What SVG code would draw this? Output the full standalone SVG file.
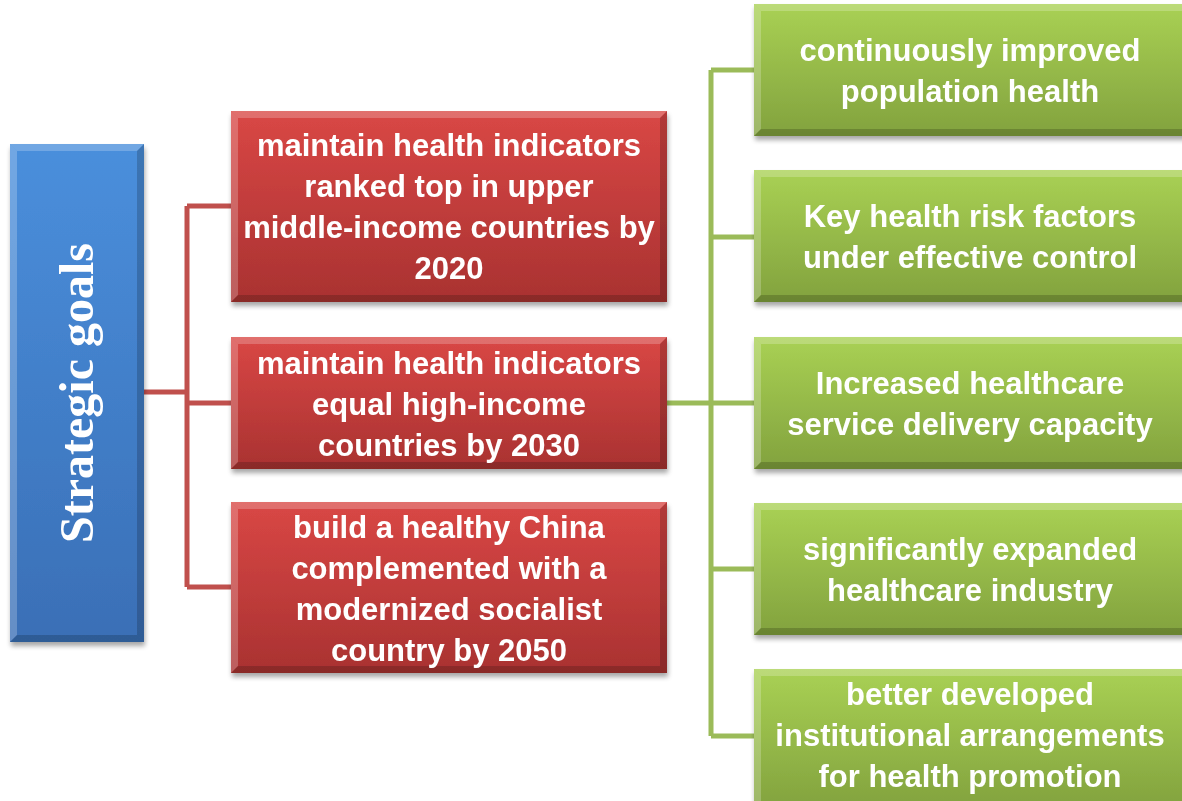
<svg xmlns="http://www.w3.org/2000/svg" width="1182" height="801" viewBox="0 0 1182 801">
<defs>
<linearGradient id="gBlue" x1="0" y1="0" x2="0" y2="1"><stop offset="0" stop-color="#4a8fdc"/><stop offset="1" stop-color="#3a6fb6"/></linearGradient>
<linearGradient id="gRed" x1="0" y1="0" x2="0" y2="1"><stop offset="0" stop-color="#d94745"/><stop offset="1" stop-color="#a93231"/></linearGradient>
<linearGradient id="gGreen" x1="0" y1="0" x2="0" y2="1"><stop offset="0" stop-color="#a9d154"/><stop offset="1" stop-color="#82a23e"/></linearGradient>
<filter id="sh" x="-10%" y="-10%" width="120%" height="125%"><feGaussianBlur in="SourceAlpha" stdDeviation="2.5"/><feOffset dx="1" dy="4" result="b"/><feComponentTransfer><feFuncA type="linear" slope="0.35"/></feComponentTransfer><feMerge><feMergeNode/><feMergeNode in="SourceGraphic"/></feMerge></filter>
</defs>
<style>
.t{font-family:"Liberation Sans",Arial,sans-serif;font-weight:bold;font-size:31px;fill:#ffffff;text-anchor:middle}
.s{font-family:"Liberation Serif","Times New Roman",serif;font-weight:bold;font-size:48px;fill:#ffffff;text-anchor:middle}
.hi{fill:#ffffff;opacity:0.22}
.lo{fill:#000000;opacity:0.18}
.cr{fill:none;stroke:#c0504d;stroke-width:5}
.cg{fill:none;stroke:#9bbb59;stroke-width:5}
</style>
<rect width="1182" height="801" fill="#ffffff"/>
<g id="connectors">
<path class="cr" d="M144 392 H187 M187 206 V587 M187 206 H231 M187 403 H231 M187 587 H231"/>
<path class="cg" d="M667 403 H711 M711 70 V736 M711 70 H754 M711 237 H754 M711 403 H754 M711 569 H754 M711 736 H754"/>
</g>
<g id="root" filter="url(#sh)">
<rect x="10" y="144" width="134" height="498" fill="url(#gBlue)"/>
<polygon class="hi" points="10,144 144,144 137,151 17,151"/><polygon class="hi" points="10,144 17,151 17,635 10,642"/>
<polygon class="lo" points="144,144 144,642 137,635 137,151"/><polygon class="lo" points="10,642 144,642 137,635 17,635"/>
<text class="s" transform="translate(93 393) rotate(-90)">Strategic goals</text>
</g>
<g id="r1" filter="url(#sh)">
<rect x="231" y="111" width="436" height="191" fill="url(#gRed)"/>
<polygon class="hi" points="231,111 667,111 660,118 238,118"/><polygon class="hi" points="231,111 238,118 238,295 231,302"/>
<polygon class="lo" points="667,111 667,302 660,295 660,118"/><polygon class="lo" points="231,302 667,302 660,295 238,295"/>
<text class="t" x="449" y="156">maintain health indicators</text>
<text class="t" x="449" y="197">ranked top in upper</text>
<text class="t" x="449" y="238">middle-income countries by</text>
<text class="t" x="449" y="279">2020</text>
</g>
<g id="r2" filter="url(#sh)">
<rect x="231" y="337" width="436" height="132" fill="url(#gRed)"/>
<polygon class="hi" points="231,337 667,337 660,344 238,344"/><polygon class="hi" points="231,337 238,344 238,462 231,469"/>
<polygon class="lo" points="667,337 667,469 660,462 660,344"/><polygon class="lo" points="231,469 667,469 660,462 238,462"/>
<text class="t" x="449" y="374">maintain health indicators</text>
<text class="t" x="449" y="415">equal high-income</text>
<text class="t" x="449" y="456">countries by 2030</text>
</g>
<g id="r3" filter="url(#sh)">
<rect x="231" y="502" width="436" height="171" fill="url(#gRed)"/>
<polygon class="hi" points="231,502 667,502 660,509 238,509"/><polygon class="hi" points="231,502 238,509 238,666 231,673"/>
<polygon class="lo" points="667,502 667,673 660,666 660,509"/><polygon class="lo" points="231,673 667,673 660,666 238,666"/>
<text class="t" x="449" y="538">build a healthy China</text>
<text class="t" x="449" y="579">complemented with a</text>
<text class="t" x="449" y="620">modernized socialist</text>
<text class="t" x="449" y="661">country by 2050</text>
</g>
<g id="g1" filter="url(#sh)">
<rect x="754" y="4" width="440" height="132" fill="url(#gGreen)"/>
<polygon class="hi" points="754,4 1194,4 1187,11 761,11"/><polygon class="hi" points="754,4 761,11 761,129 754,136"/>
<polygon class="lo" points="754,136 1194,136 1187,129 761,129"/>
<text class="t" x="970" y="61">continuously improved</text>
<text class="t" x="970" y="102">population health</text>
</g>
<g id="g2" filter="url(#sh)">
<rect x="754" y="170" width="440" height="132" fill="url(#gGreen)"/>
<polygon class="hi" points="754,170 1194,170 1187,177 761,177"/><polygon class="hi" points="754,170 761,177 761,295 754,302"/>
<polygon class="lo" points="754,302 1194,302 1187,295 761,295"/>
<text class="t" x="970" y="227">Key health risk factors</text>
<text class="t" x="970" y="268">under effective control</text>
</g>
<g id="g3" filter="url(#sh)">
<rect x="754" y="337" width="440" height="132" fill="url(#gGreen)"/>
<polygon class="hi" points="754,337 1194,337 1187,344 761,344"/><polygon class="hi" points="754,337 761,344 761,462 754,469"/>
<polygon class="lo" points="754,469 1194,469 1187,462 761,462"/>
<text class="t" x="970" y="394">Increased healthcare</text>
<text class="t" x="970" y="435">service delivery capacity</text>
</g>
<g id="g4" filter="url(#sh)">
<rect x="754" y="503" width="440" height="132" fill="url(#gGreen)"/>
<polygon class="hi" points="754,503 1194,503 1187,510 761,510"/><polygon class="hi" points="754,503 761,510 761,628 754,635"/>
<polygon class="lo" points="754,635 1194,635 1187,628 761,628"/>
<text class="t" x="970" y="560">significantly expanded</text>
<text class="t" x="970" y="601">healthcare industry</text>
</g>
<g id="g5" filter="url(#sh)">
<rect x="754" y="669" width="440" height="140" fill="url(#gGreen)"/>
<polygon class="hi" points="754,669 1194,669 1187,676 761,676"/><polygon class="hi" points="754,669 761,676 761,809 754,816"/>
<text class="t" x="970" y="705">better developed</text>
<text class="t" x="970" y="746">institutional arrangements</text>
<text class="t" x="970" y="787">for health promotion</text>
</g>
</svg>
